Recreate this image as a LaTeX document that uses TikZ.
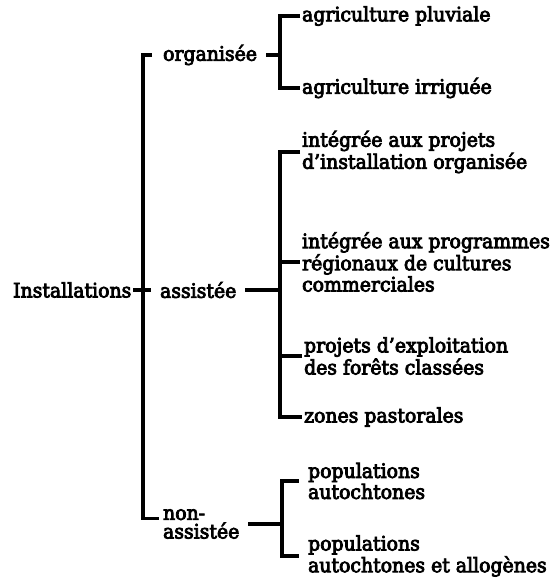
\documentclass[tikz,border=0pt]{standalone}
\usepackage{fontspec}
\setmainfont{DejaVu Serif}[FakeBold=4,FakeStretch=0.95]
\usepackage{tikz}

\begin{document}
\begin{tikzpicture}[txt/.style={anchor=west, inner sep=1pt, align=left, font=\fontsize{11.3}{10.6}\selectfont}, brk/.style={line width=2pt}]
            \useasboundingbox (0,0) rectangle (11.14,-11.66);
            \node[txt] (A) at (0.22,-5.80) {Installations};
            \node[txt] (B) at (3.22,-1.10) {organisée};
            \node[txt] (C) at (3.16,-5.80) {assistée};
            \node[txt] (D) at (3.22,-10.48) {non-\\assistée};
            \node[txt] (E) at (6.00,-0.32) {agriculture pluviale};
            \node[txt] (F) at (6.00,-1.76) {agriculture irriguée};
            \node[txt] (G) at (6.00,-3.04) {intégrée aux projets\\d’installation organisée};
            \node[txt] (H) at (6.00,-5.24) {intégrée aux programmes\\régionaux de cultures\\commerciales};
            \node[txt] (I) at (6.04,-7.12) {projets d’exploitation\\des forêts classées};
            \node[txt] (J) at (6.04,-8.34) {zones pastorales};
            \node[txt] (K) at (6.12,-9.62) {populations\\autochtones};
            \node[txt] (L) at (6.12,-11.12) {populations\\autochtones et allogènes};
            \coordinate (M) at (2.86,-5.80);
            \coordinate (N) at (5.60,-1.10);
            \coordinate (O) at (5.60,-5.80);
            \coordinate (P) at (5.64,-10.48);
            \draw[brk] ([xshift=-5pt]B.west) -| (M) |- ([xshift=-1pt,yshift=3pt]D.west);
            \draw[brk] (A.east) -- ([xshift=-4pt]C.west);
            \draw[brk] ([xshift=4pt]B.east) -- (N);
            \draw[brk] (E.west) -| (N) |- (F.west);
            \draw[brk] ([xshift=4pt]C.east) -- (O);
            \draw[brk] (G.west) -| (O) |- (J.west);
            \draw[brk] (H.west) -- (H.west -| O);
            \draw[brk] (I.west) -- (I.west -| O);
            \draw[brk] ([xshift=4pt]D.east) -- (P);
            \draw[brk] ([xshift=-4pt]K.west) -| (P) |- ([xshift=-4pt]L.west);
        \end{tikzpicture}
\end{document}
